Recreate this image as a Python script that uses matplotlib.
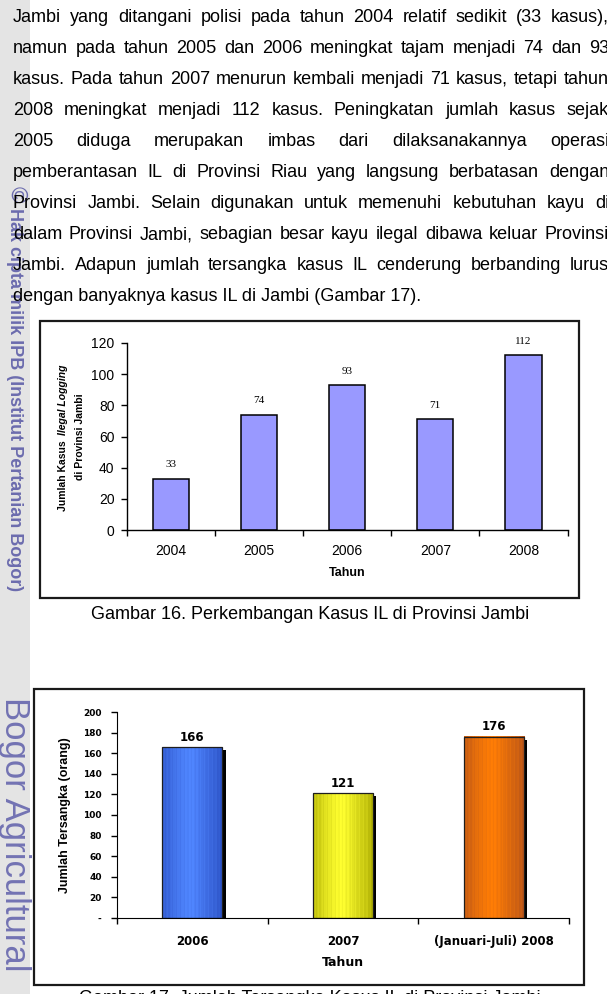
import numpy as np
import matplotlib
matplotlib.use('Agg')
import matplotlib.pyplot as plt
from matplotlib.patches import Rectangle
from matplotlib.colors import LinearSegmentedColormap

W, H = 607, 994

# data
tahun_kasus = ['2004', '2005', '2006', '2007', '2008']
jumlah_kasus = [33, 74, 93, 71, 112]

tahun_tersangka = ['2006', '2007', '(Januari-Juli) 2008']
jumlah_tersangka = [166, 121, 176]
warna_tepi = ['#2a4fc2', '#a9a900', '#b4521a']
warna_tengah = ['#5086ff', '#ffff30', '#ff7d05']

paragraf = [
    "Jambi yang ditangani polisi pada tahun 2004 relatif sedikit (33 kasus),",
    "namun pada tahun 2005 dan 2006 meningkat tajam menjadi 74 dan 93",
    "kasus. Pada tahun 2007 menurun kembali menjadi 71 kasus, tetapi tahun",
    "2008 meningkat menjadi 112 kasus. Peningkatan jumlah kasus sejak",
    "2005 diduga merupakan imbas dari dilaksanakannya operasi",
    "pemberantasan IL di Provinsi Riau yang langsung berbatasan dengan",
    "Provinsi Jambi. Selain digunakan untuk memenuhi kebutuhan kayu di",
    "dalam Provinsi Jambi, sebagian besar kayu ilegal dibawa keluar Provinsi",
    "Jambi. Adapun jumlah tersangka kasus IL cenderung berbanding lurus",
    "dengan banyaknya kasus IL di Jambi (Gambar 17).",
]

plt.rcParams['font.family'] = ['Liberation Sans', 'DejaVu Sans']

fig = plt.figure(figsize=(W / 100, H / 100), dpi=100)
renderer = fig.canvas.get_renderer()


def px_axes(l, t, r, b):
    # axes from pixel box (top-left origin)
    return fig.add_axes([l / W, 1 - b / H, (r - l) / W, (b - t) / H])


# page background, pixel coordinates
bg = fig.add_axes([0, 0, 1, 1])
bg.set_xlim(0, W)
bg.set_ylim(H, 0)
bg.axis('off')
bg.add_patch(Rectangle((0, 0), 30, H, color='#e4e4e4', lw=0))

# side watermark, read top to bottom
bg.text(16, 186, '©', rotation=270, rotation_mode='anchor', ha='left', va='center',
        fontsize=16, color='#6c6cae')
bg.text(15, 208, 'Hak cipta milik IPB (Institut Pertanian Bogor)', rotation=270,
        rotation_mode='anchor', ha='left', va='center', fontsize=13,
        fontweight='bold', color='#6c6cae')
bg.text(15, 697, 'Bogor Agricultural', rotation=270, rotation_mode='anchor',
        ha='left', va='center', fontsize=25, color='#7373b3')

# justified paragraph
x_kiri, x_kanan = 13, 609
for i, baris in enumerate(paragraf):
    y = 22 + 31 * i
    kata = baris.split()
    if i == len(paragraf) - 1:
        bg.text(x_kiri, y, baris, va='baseline', fontsize=13)
        continue
    teks = [bg.text(0, y, k, va='baseline', fontsize=13) for k in kata]
    lebar = [t.get_window_extent(renderer).width for t in teks]
    celah = (x_kanan - x_kiri - sum(lebar)) / (len(kata) - 1)
    x = x_kiri
    for t, w in zip(teks, lebar):
        t.set_x(x)
        x += w + celah

# frames and captions
bg.add_patch(Rectangle((40, 321), 539, 277, fill=False, lw=1.6, ec='#1a1a1a'))
bg.add_patch(Rectangle((34, 689), 550, 296, fill=False, lw=1.6, ec='#1a1a1a'))
bg.text(310, 619, 'Gambar 16. Perkembangan Kasus IL di Provinsi Jambi',
        ha='center', va='baseline', fontsize=13)
bg.text(310, 1003, 'Gambar 17. Jumlah Tersangka Kasus IL di Provinsi Jambi',
        ha='center', va='baseline', fontsize=13)

# ---- Gambar 16
ax1 = px_axes(127, 343, 567.5, 530)
ax1.patch.set_alpha(0)
x1 = np.arange(len(tahun_kasus))
ax1.bar(x1, jumlah_kasus, width=0.41, color='#9999ff', edgecolor='black', linewidth=1.1)
ax1.set_xlim(-0.5, len(x1) - 0.5)
ax1.set_ylim(0, 120)
ax1.set_yticks(range(0, 121, 20))
ax1.set_xticks(x1, tahun_kasus)
ax1.set_xticks(np.arange(-0.5, len(x1)), minor=True)
ax1.tick_params(axis='x', which='major', length=0, pad=10, labelsize=10)
ax1.tick_params(axis='x', which='minor', length=4, width=1)
ax1.tick_params(axis='y', length=4, width=1, pad=5, labelsize=10)
for s in ['top', 'right']:
    ax1.spines[s].set_visible(False)
for s in ['left', 'bottom']:
    ax1.spines[s].set_linewidth(1)
for x, v in zip(x1, jumlah_kasus):
    ax1.annotate(str(v), (x, v), xytext=(0, 10), textcoords='offset points',
                 ha='center', va='center', fontsize=8, family='Liberation Serif')

bg.text(347, 573, 'Tahun', ha='center', va='center', fontsize=9, fontweight='bold')

# y label, two lines, second part of first line italic
t_a = bg.text(63, 0, 'Jumlah Kasus  ', rotation=90, rotation_mode='anchor',
              ha='left', va='center', fontsize=7.5, fontweight='bold')
t_b = bg.text(63, 0, 'Ilegal Logging', rotation=90, rotation_mode='anchor',
              ha='left', va='center', fontsize=7.5, fontweight='bold', style='italic')
ha_ = t_a.get_window_extent(renderer).height
hb_ = t_b.get_window_extent(renderer).height
y_awal = 438 + (ha_ + hb_) / 2
t_a.set_y(y_awal)
t_b.set_y(y_awal - ha_)
bg.text(80, 437, 'di Provinsi Jambi', rotation=90, ha='center', va='center',
        fontsize=7.5, fontweight='bold')

# ---- Gambar 17
ax2 = px_axes(117, 712, 569, 918)
ax2.patch.set_alpha(0)
x2 = np.arange(len(tahun_tersangka))
bw = 0.40
ax2.bar(x2 + 0.022, np.array(jumlah_tersangka) - 3, width=bw, color='black', zorder=1)
bars = ax2.bar(x2, jumlah_tersangka, width=bw, facecolor='none',
               edgecolor='#1e1e1e', linewidth=0.9, zorder=3)
t = np.linspace(0, 1, 48)
profil = np.clip(1 - np.abs(t - 0.45) / 0.58, 0, 1) ** 0.8
profil = np.clip(profil + 0.08 * np.sin(2 * np.pi * t * 16), 0, 1)[None, :]
for bar, c0, c1 in zip(bars, warna_tepi, warna_tengah):
    cmap = LinearSegmentedColormap.from_list('g', [c0, c1])
    ax2.imshow(profil, extent=[bar.get_x(), bar.get_x() + bar.get_width(), 0, bar.get_height()],
               aspect='auto', cmap=cmap, vmin=0, vmax=1, zorder=2, interpolation='nearest')
ax2.set_xlim(-0.5, len(x2) - 0.5)
ax2.set_ylim(0, 200)
ax2.set_yticks(range(0, 201, 20), ['-'] + [str(v) for v in range(20, 201, 20)])
ax2.set_xticks(x2, tahun_tersangka)
ax2.set_xticks(np.arange(-0.5, len(x2)), minor=True)
ax2.tick_params(axis='x', which='major', length=0, pad=12, labelsize=8.5)
ax2.tick_params(axis='x', which='minor', length=4, width=1)
ax2.tick_params(axis='y', length=4, width=1, pad=7, labelsize=6.5)
for lab in ax2.get_xticklabels() + ax2.get_yticklabels():
    lab.set_fontweight('bold')
    lab.set_family('DejaVu Sans')
for s in ['top', 'right']:
    ax2.spines[s].set_visible(False)
for x, v in zip(x2, jumlah_tersangka):
    ax2.annotate(str(v), (x, v), xytext=(0, 7), textcoords='offset points',
                 ha='center', va='center', fontsize=8.5, fontweight='bold',
                 family='DejaVu Sans')

bg.text(343, 962, 'Tahun', ha='center', va='center', fontsize=9, fontweight='bold',
        family='DejaVu Sans')
bg.text(65, 815, 'Jumlah Tersangka (orang)', rotation=90, ha='center', va='center',
        fontsize=9, fontweight='bold')

fig.savefig('out.png', dpi=100)
